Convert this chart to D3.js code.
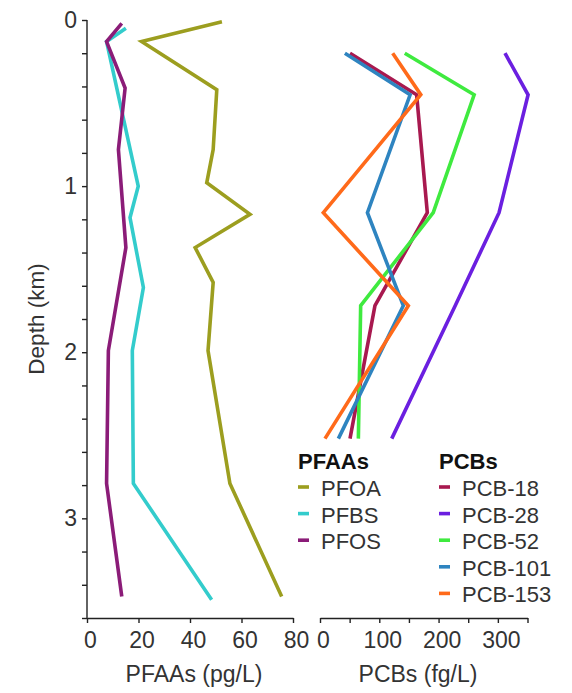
<!DOCTYPE html>
<html>
<head>
<meta charset="utf-8">
<script src="https://cdn.jsdelivr.net/npm/d3@7"></script>
<style>
    body { margin: 0; background: #fff; }
    text { font-family: "Liberation Sans", Arial, sans-serif; }
</style>
</head>
<body>
<div id="winArea"></div>
<script>
// PFAAs (pg/L) against depth (km), each series has its own sample depths
const pfoaDepth = [0.01, 0.13, 0.42, 0.78, 0.98, 1.17, 1.37, 1.58, 1.99, 2.79, 3.47];
const pfoaValue = [52.4, 21.2, 50.4, 49, 46.5, 63.3, 42, 49, 47, 55.5, 75.6];
const pfbsDepth = [0.05, 0.13, 1.0, 1.19, 1.61, 1.99, 2.79, 3.49];
const pfbsValue = [15.1, 7.6, 19.9, 16.7, 21.9, 17.6, 18, 48.4];
const pfosDepth = [0.02, 0.13, 0.41, 0.78, 1.37, 1.99, 2.79, 3.47];
const pfosValue = [13.5, 7.6, 14.8, 12.2, 15.1, 8.3, 7.6, 13.5];

// PCBs (fg/L) share the same sample depths
const pcbDepth = [0.2, 0.45, 1.16, 1.72, 2.52];
const pcb18 = [50.6, 163, 181, 92.7, 50.6];
const pcb28 = [312, 351, 302, 228, 121];
const pcb52 = [143, 260, 191, 68.6, 64.7];
const pcb101 = [42, 152, 80, 140.5, 31];
const pcb153 = [122.6, 170, 5.6, 149, 8.4];

const pfaaNames = ["PFOA", "PFBS", "PFOS"];
const pfaaColors = ["#9c9e1f", "#33cccc", "#8b1c78"];
const pcbNames = ["PCB-18", "PCB-28", "PCB-52", "PCB-101", "PCB-153"];
const pcbColors = ["#a8194f", "#6b1fe0", "#3fea3f", "#2e84c0", "#ff6a1a"];

const depthTicks = [0, 0.2, 0.4, 0.6, 0.8, 1, 1.2, 1.4, 1.6, 1.8, 2, 2.2, 2.4, 2.6, 2.8, 3, 3.2, 3.4, 3.6];
const pfaaTicks = [0, 20, 40, 60, 80];
const pcbTicks = [0, 50, 100, 150, 200, 250, 300, 350];

const width = 572;
const height = 693;

const svg = d3.select("#winArea")
    .append("svg")
    .attr("width", width)
    .attr("height", height);

//adding scales
const yScale = d3.scaleLinear().domain([0, 3.6]).range([20, 618]);
const xLeft = d3.scaleLinear().domain([0, 80]).range([87, 293]);
const xRight = d3.scaleLinear().domain([0, 350]).range([320, 527.5]);

function styleAxis(g) {
    g.selectAll("path, line").attr("stroke", "#222").attr("stroke-width", 1.4);
    g.selectAll("text")
        .style("font-size", "23px")
        .style("fill", "#333")
        .style("font-family", "'Liberation Sans', Arial, sans-serif");
}

//y axis
svg.append("g")
    .attr("transform", `translate(${xLeft(0)}, 0)`)
    .call(d3.axisLeft(yScale)
        .tickValues(depthTicks)
        .tickSize(5)
        .tickSizeOuter(0)
        .tickPadding(5)
        .tickFormat(d => Number.isInteger(d) ? d : ""))
    .call(styleAxis)
    .call(g => g.select(".domain").remove());

svg.append("line")
    .attr("x1", xLeft(0)).attr("x2", xLeft(0))
    .attr("y1", yScale(0)).attr("y2", yScale(3.6))
    .attr("stroke", "#222").attr("stroke-width", 1.4);

//left x axis
svg.append("g")
    .attr("transform", `translate(0, ${yScale(3.6)})`)
    .call(d3.axisBottom(xLeft)
        .tickValues(pfaaTicks)
        .tickSize(5)
        .tickSizeOuter(0)
        .tickPadding(9))
    .call(styleAxis)
    .call(g => g.selectAll("text").attr("dx", 3));

//right x axis
svg.append("g")
    .attr("transform", `translate(0, ${yScale(3.6)})`)
    .call(d3.axisBottom(xRight)
        .tickValues(pcbTicks)
        .tickSize(5)
        .tickSizeOuter(0)
        .tickPadding(9)
        .tickFormat(d => d % 100 === 0 ? d : ""))
    .call(styleAxis)
    .call(g => g.selectAll("text").attr("dx", 3));

//axis titles
svg.append("text")
    .attr("x", -319)
    .attr("y", 44)
    .attr("transform", "rotate(-90)")
    .attr("text-anchor", "middle")
    .style("font-size", "22.5px")
    .style("fill", "#333")
    .text("Depth (km)");

svg.append("text")
    .attr("x", 194)
    .attr("y", 682)
    .attr("text-anchor", "middle")
    .style("font-size", "23px")
    .style("fill", "#333")
    .text("PFAAs (pg/L)");

svg.append("text")
    .attr("x", 418)
    .attr("y", 682)
    .attr("text-anchor", "middle")
    .style("font-size", "23px")
    .style("fill", "#333")
    .text("PCBs (fg/L)");

//drawing lines
const pfaaSeries = [
    pfoaDepth.map((d, i) => [d, pfoaValue[i]]),
    pfbsDepth.map((d, i) => [d, pfbsValue[i]]),
    pfosDepth.map((d, i) => [d, pfosValue[i]])
];
const pcbSeries = [pcb18, pcb28, pcb52, pcb101, pcb153]
    .map(vals => pcbDepth.map((d, i) => [d, vals[i]]));

const leftLine = d3.line().x(d => xLeft(d[1])).y(d => yScale(d[0]));
const rightLine = d3.line().x(d => xRight(d[1])).y(d => yScale(d[0]));

svg.append("g").selectAll("path")
    .data(pfaaSeries)
    .join("path")
    .attr("d", leftLine)
    .attr("fill", "none")
    .attr("stroke", (d, i) => pfaaColors[i])
    .attr("stroke-width", 3.6);

svg.append("g").selectAll("path")
    .data(pcbSeries)
    .join("path")
    .attr("d", rightLine)
    .attr("fill", "none")
    .attr("stroke", (d, i) => pcbColors[i])
    .attr("stroke-width", 3.6);

//legends
function addLegend(x, title, names, colors) {
    const lg = svg.append("g").attr("transform", `translate(${x}, 469)`);
    lg.append("text")
        .attr("x", 0)
        .attr("y", 0)
        .style("font-size", "22px")
        .style("font-weight", "bold")
        .style("fill", "#111")
        .text(title);
    const rows = lg.selectAll("g.row")
        .data(names)
        .join("g")
        .attr("class", "row")
        .attr("transform", (d, i) => `translate(0, ${27 + i * 26.6})`);
    rows.append("line")
        .attr("x1", 0).attr("x2", 11)
        .attr("y1", -9).attr("y2", -9)
        .attr("stroke", (d, i) => colors[i])
        .attr("stroke-width", 3.6);
    rows.append("text")
        .attr("x", 23)
        .attr("y", 0)
        .style("font-size", "22px")
        .style("fill", "#333")
        .text(d => d);
}

addLegend(298, "PFAAs", pfaaNames, pfaaColors);
addLegend(439, "PCBs", pcbNames, pcbColors);
</script>
</body>
</html>
